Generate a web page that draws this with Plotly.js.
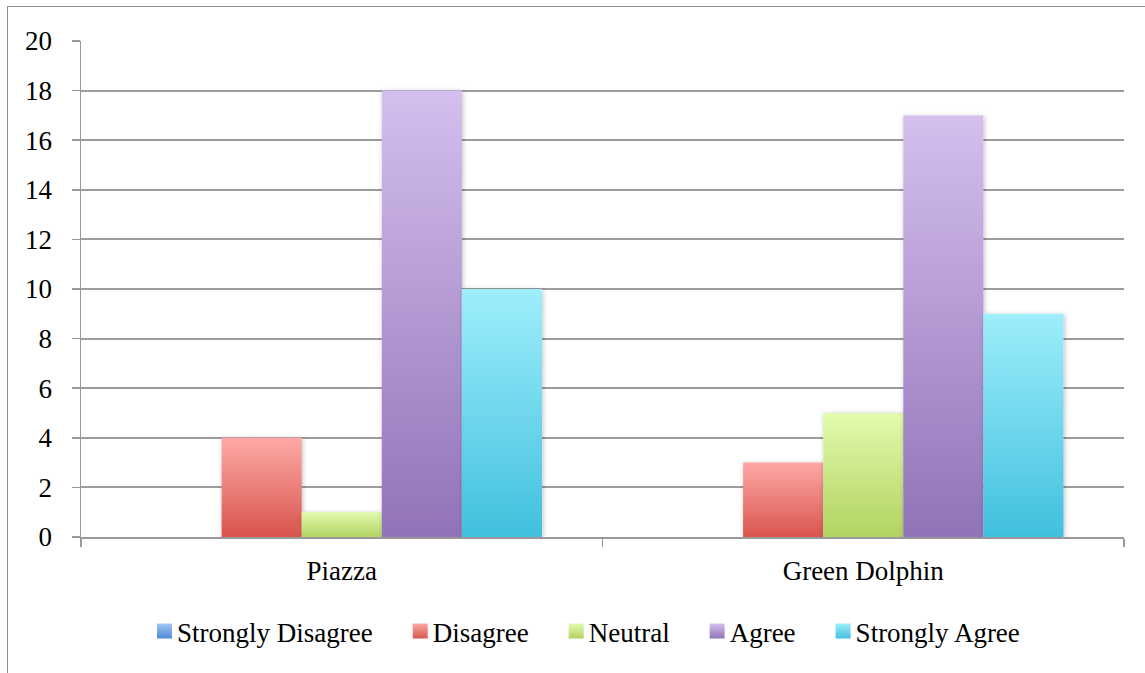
<!DOCTYPE html>
<html>
<head>
<meta charset="utf-8">
<script src="https://cdn.plot.ly/plotly-3.0.1.min.js"></script>
<style>
  html, body { margin: 0; padding: 0; background: #fff; }
  #wrap { position: relative; width: 1145px; height: 673px; overflow: hidden; }
  #frame { position: absolute; left: 7px; top: 6px; width: 1200px; height: 700px;
           border-left: 1.5px solid #8c8c8c; border-top: 1.5px solid #8c8c8c; pointer-events: none; }
  #chart { position: absolute; left: 0; top: 0; width: 1145px; height: 673px; }
</style>
</head>
<body>
<div id="wrap">
  <div id="chart"></div>
  <div id="frame"></div>
</div>
<script>
// ---- data ----
const categories = ["Piazza", "Green Dolphin"];
const seriesNames = ["Strongly Disagree", "Disagree", "Neutral", "Agree", "Strongly Agree"];
const stronglyDisagree = [0, 0];
const disagree = [4, 3];
const neutral = [1, 5];
const agree = [18, 17];
const stronglyAgree = [10, 9];
const yTickValues = [0, 2, 4, 6, 8, 10, 12, 14, 16, 18, 20];

// ---- styles ----
const topColors = ["#a3c8f3", "#fda9a6", "#e2fbae", "#d4bfee", "#9eeefb"];
const bottomColors = ["#4f89d6", "#d9554d", "#b1d362", "#9173b7", "#41c0de"];
const midColors = ["#78a8e5", "#ec7e78", "#cae787", "#b299d3", "#70d7ed"];

const seriesValues = [stronglyDisagree, disagree, neutral, agree, stronglyAgree];
const fontFamily = "Liberation Serif";
const fontSize = 27;

const traces = seriesNames.map((name, i) => ({
  type: "bar",
  name: name,
  x: categories,
  y: seriesValues[i],
  marker: { color: midColors[i], line: { width: 0 } },
  hoverinfo: "skip"
}));

const layout = {
  width: 1145,
  height: 673,
  margin: { l: 81, r: 21, t: 41, b: 136 },
  paper_bgcolor: "rgba(0,0,0,0)",
  plot_bgcolor: "rgba(0,0,0,0)",
  barmode: "group",
  bargap: 0.232,
  bargroupgap: 0,
  font: { family: fontFamily, size: fontSize, color: "#000" },
  xaxis: {
    type: "category",
    tickson: "boundaries",
    ticks: "outside",
    ticklen: 8,
    tickwidth: 1.5,
    tickcolor: "#999",
    showline: true,
    linecolor: "#999",
    linewidth: 2,
    showgrid: false,
    zeroline: false,
    tickfont: { family: fontFamily, size: fontSize, color: "#000" },
    ticklabelstandoff: 9
  },
  yaxis: {
    range: [0, 20],
    tickvals: yTickValues,
    ticks: "outside",
    ticklen: 8,
    tickwidth: 1.5,
    tickcolor: "#999",
    showline: true,
    linecolor: "#999",
    linewidth: 1.5,
    showgrid: true,
    gridcolor: "#9c9c9c",
    gridwidth: 2,
    zeroline: false,
    tickfont: { family: fontFamily, size: fontSize, color: "#000" },
    ticklabelstandoff: 14
  },
  legend: {
    orientation: "h",
    x: 0.5,
    xanchor: "center",
    y: -0.195,
    yanchor: "middle",
    font: { family: fontFamily, size: fontSize, color: "#000" },
    bgcolor: "rgba(0,0,0,0)"
  },
  showlegend: true
};

Plotly.newPlot("chart", traces, layout, { staticPlot: true, displayModeBar: false }).then(gd => {
  const svg = gd.querySelector("svg.main-svg");
  const ns = "http://www.w3.org/2000/svg";
  let defs = svg.querySelector("defs");
  if (!defs) { defs = document.createElementNS(ns, "defs"); svg.insertBefore(defs, svg.firstChild); }
  topColors.forEach((c, i) => {
    const g = document.createElementNS(ns, "linearGradient");
    g.setAttribute("id", "barGrad" + i);
    g.setAttribute("x1", "0"); g.setAttribute("y1", "0");
    g.setAttribute("x2", "0"); g.setAttribute("y2", "1");
    const s1 = document.createElementNS(ns, "stop");
    s1.setAttribute("offset", "0"); s1.setAttribute("stop-color", c);
    const s2 = document.createElementNS(ns, "stop");
    s2.setAttribute("offset", "1"); s2.setAttribute("stop-color", bottomColors[i]);
    g.appendChild(s1); g.appendChild(s2);
    defs.appendChild(g);
  });
  const f = document.createElementNS(ns, "filter");
  f.setAttribute("id", "barShadow");
  f.setAttribute("x", "-10%"); f.setAttribute("y", "-10%");
  f.setAttribute("width", "130%"); f.setAttribute("height", "130%");
  f.innerHTML = '<feDropShadow dx="1" dy="1" stdDeviation="2.5" flood-color="#000" flood-opacity="0.25"/>';
  defs.appendChild(f);

  gd.querySelectorAll(".barlayer .trace").forEach((t, i) => {
    t.querySelectorAll("path").forEach(p => {
      p.style.fill = "url(#barGrad" + i + ")";
      p.style.filter = "url(#barShadow)";
    });
  });

  // Legend: Excel-like spacing (15px swatch, 5px gap to text, wider gap between entries)
  const scroll = gd.querySelector(".legend .scrollbox");
  if (scroll) scroll.removeAttribute("clip-path");
  const items = gd.querySelectorAll(".legend .traces");
  let x = 0;
  items.forEach((t, i) => {
    const lp = t.querySelector(".legendpoints");
    if (lp) lp.removeAttribute("transform");
    t.querySelectorAll(".legendpoints path").forEach(p => {
      p.removeAttribute("transform");
      p.setAttribute("d", "M20,7.5H35V-7.5H20Z");
      p.style.fill = "url(#barGrad" + i + ")";
      p.style.stroke = "none";
    });
    const txt = t.querySelector("text.legendtext");
    const w = txt.getComputedTextLength();
    const m = /translate\(([-\d.]+)[ ,]*([-\d.]+)?\)/.exec(t.getAttribute("transform") || "");
    const ty = m && m[2] ? parseFloat(m[2]) : 0;
    txt.setAttribute("x", 40);
    t.setAttribute("transform", "translate(" + (x - 20) + "," + ty + ")");
    x = x + 20 + w + 40;
  });
  const first = items[0].querySelector(".legendpoints path");
  const r = first.getBoundingClientRect();
  const leg = gd.querySelector(".legend");
  const lm = /translate\(([-\d.]+)[ ,]*([-\d.]+)?\)/.exec(leg.getAttribute("transform") || "");
  const lx = lm ? parseFloat(lm[1]) : 0, ly = lm && lm[2] ? parseFloat(lm[2]) : 0;
  leg.setAttribute("transform", "translate(" + (lx + 157 - r.left) + "," + (ly + 623.5 - r.top) + ")");
});
</script>
</body>
</html>
